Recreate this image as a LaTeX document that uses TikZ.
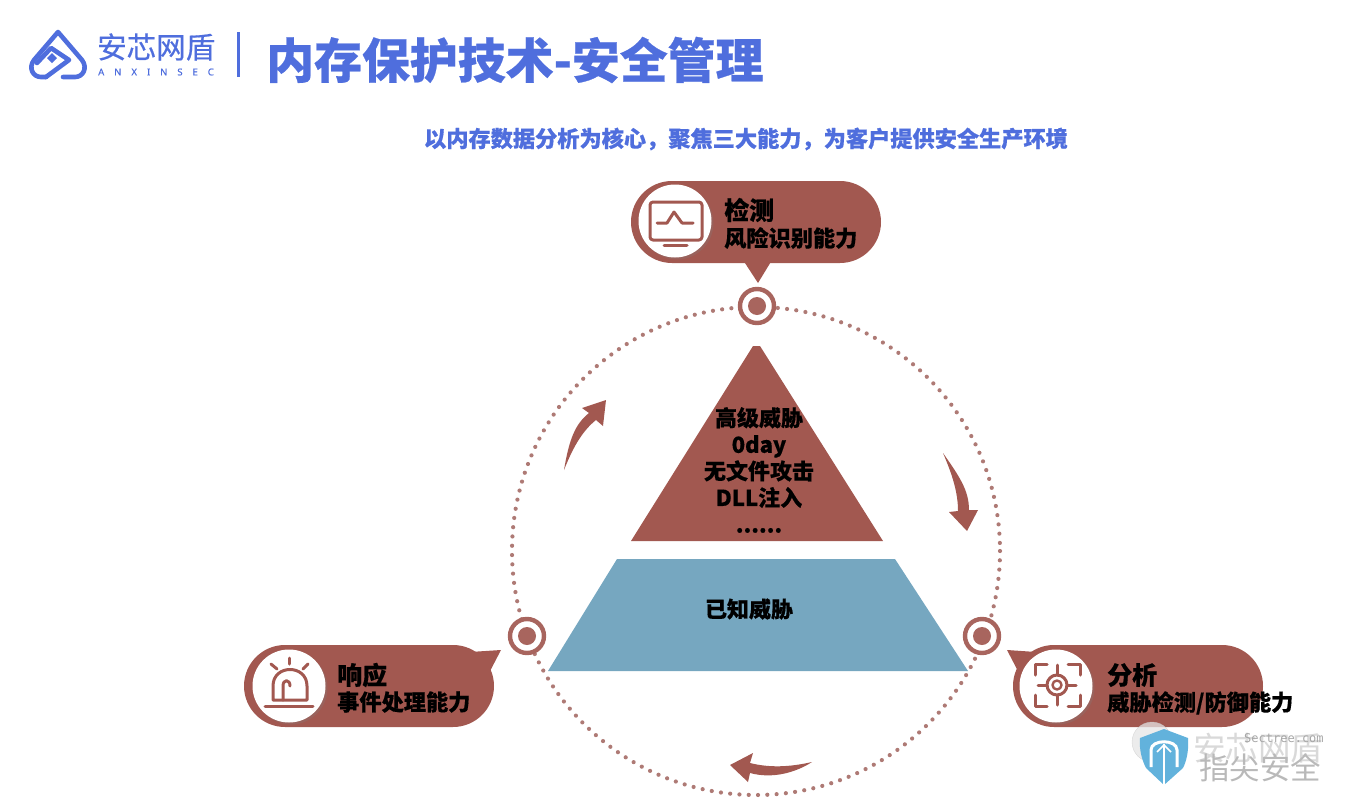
\documentclass[tikz,border=0pt]{standalone}
\usepackage{fontspec}
\setmainfont[BoldFeatures={FakeBold=0.5}]{Noto Sans CJK SC}
\newfontfamily\logocjk[FakeBold=0.5]{Noto Sans CJK SC}
\newfontfamily\logolatin[LetterSpace=105,FakeBold=0.6]{Noto Sans}
\newfontfamily\markmono{DejaVu Sans Mono}
\usetikzlibrary{shadows}
\definecolor{brick}{HTML}{A25850}
\definecolor{ringbrick}{HTML}{A8655E}
\definecolor{dotbrick}{HTML}{AE7A75}
\definecolor{logoblue}{HTML}{4F6EDD}
\definecolor{pyrblue}{HTML}{76A7C0}
\definecolor{shieldblue}{HTML}{62B2DC}
\tikzset{
	bubble/.style={fill=brick,rounded corners=41pt,minimum width=250pt,minimum height=82pt,inner sep=0pt},
	iconback/.style={circle,fill=white,minimum size=73pt,inner sep=0pt,drop shadow={opacity=0.25,shadow xshift=2pt,shadow yshift=-2pt}},
	iconline/.style={draw=brick,line width=3pt,line cap=round,line join=round},
	marker/.style={circle,draw=ringbrick,line width=4.4pt,fill=white,minimum size=34pt,inner sep=0pt},
	markerdot/.style={circle,fill=ringbrick,minimum size=18pt,inner sep=0pt},
	headtext/.style={anchor=west,inner sep=0pt,font=\bfseries\fontsize{25}{28}\selectfont},
	subtext/.style={anchor=west,inner sep=0pt,font=\bfseries\fontsize{22.2}{26}\selectfont},
	logostroke/.style={logoblue,line width=4.6pt,line cap=round,line join=round},
}
\begin{document}
\begin{tikzpicture}[x=1pt,y=-1pt]
	\useasboundingbox (0,0) rectangle (1350,798);

	\draw[logostroke] (46,77) -- (41,77) .. controls (33,77) and (28,68) .. (34,60) -- (58,32) -- (82,60) .. controls (88,68) and (83,77) .. (75,77) -- (63,77);
	\draw[logostroke] (46,77) -- (69,60) -- (51,48) -- (37,63);
	\fill[logoblue] (52,53) -- (57,58) -- (52,63) -- (47,58) -- cycle;
	\node[anchor=west,inner sep=0pt,text=logoblue,font=\logocjk\fontsize{29.5}{32}\selectfont] (logoname) at (97,47) {安芯网盾};
	\node[anchor=west,inner sep=0pt,text=logoblue,font=\logolatin\fontsize{9.5}{10}\selectfont] (logolatin) at (98,72) {ANXINSEC};
	\draw[logoblue,line width=3pt] (238,32) -- (238,77);
	\node[anchor=west,inner sep=0pt,text=logoblue,font=\bfseries\fontsize{47.9}{54}\selectfont] (title) at (266,60) {内存保护技术-安全管理};
	\node[inner sep=0pt,text=logoblue,font=\bfseries\fontsize{22.2}{26}\selectfont] (slogan) at (746,139) {以内存数据分析为核心，聚焦三大能力，为客户提供安全生产环境};

	\coordinate (ringcentre) at (756,551);
	\draw[dotbrick,line width=4.2pt,line cap=round,dash pattern=on 0pt off 9.3pt] (ringcentre) circle (244);

	\node[marker] (detectmark) at (757,306) {};
	\node[markerdot] at (detectmark) {};
	\node[marker] (respondmark) at (527,636) {};
	\node[markerdot] at (respondmark) {};
	\node[marker] (analysemark) at (982,636) {};
	\node[markerdot] at (analysemark) {};

	\fill[brick] (743,260) -- (758,283) -- (772,260) -- cycle;
	\node[bubble] (detectbubble) at (756,222) {};
	\node[iconback] (detecticon) at (675,221) {};
	\draw[iconline,rounded corners=3pt] (650,202) rectangle (702,240);
	\draw[iconline] (657,223) -- (667,223) -- (674,212) -- (682,223) -- (693,223);
	\draw[iconline] (664,245) -- (687,245);
	\node[headtext] (detecthead) at (724,210) {检测};
	\node[subtext] (detectsub) at (724,238) {风险识别能力};

	\fill[brick] (470,652) -- (501,650) -- (488,675) -- cycle;
	\node[bubble] (respondbubble) at (369,686) {};
	\node[iconback] (respondicon) at (289,686) {};
	\draw[iconline] (273,700) -- (273,686) .. controls (273,664) and (307,664) .. (307,686) -- (307,700) -- cycle;
	\draw[iconline] (283,700) -- (283,686) .. controls (283,679) and (290,679) .. (290,686);
	\draw[iconline] (265,706) -- (313,706);
	\draw[iconline] (289,658) -- (289,664);
	\draw[iconline] (271,664) -- (277,669);
	\draw[iconline] (308,664) -- (303,669);
	\node[headtext] (respondhead) at (337,675) {响应};
	\node[subtext] (respondsub) at (337,702) {事件处理能力};

	\fill[brick] (1036,652) -- (1007,650) -- (1020,675) -- cycle;
	\node[bubble] (analysebubble) at (1138,686) {};
	\node[iconback] (analyseicon) at (1056,686) {};
	\draw[iconline] (1057,685) circle (10);
	\draw[iconline,line width=2.4pt] (1057,685) circle (4.5);
	\draw[iconline] (1038,685) -- (1047,685) (1067,685) -- (1076,685) (1057,665) -- (1057,675) (1057,695) -- (1057,705);
	\draw[iconline] (1035,675) -- (1035,664) -- (1047,664) (1068,664) -- (1080,664) -- (1080,675);
	\draw[iconline] (1035,695) -- (1035,706) -- (1047,706) (1068,706) -- (1080,706) -- (1080,695);
	\node[headtext] (analysehead) at (1107,675) {分析};
	\node[subtext] (analysesub) at (1107,703) {威胁检测/防御能力};

	\fill[brick] (753,346) -- (760,346) -- (883,541) -- (631,541) -- cycle;
	\fill[pyrblue] (617,559) -- (895,559) -- (968,671) -- (548,671) -- cycle;
	\node[align=center,inner sep=0pt,font=\bfseries\fontsize{22}{26.6}\selectfont] (upperlabel) at (759,470) {高级威胁\\0day\\无文件攻击\\DLL注入\\......};
	\node[inner sep=0pt,font=\bfseries\fontsize{22}{26}\selectfont] (lowerlabel) at (749,609) {已知威胁};

	\fill[brick] (564,470) .. controls (569,440) and (575,424) .. (589,413) -- (582,408) -- (606,400) -- (603,426) -- (596,420) .. controls (581,432) and (572,450) .. (564,470) -- cycle;
	\fill[brick] (943,453) .. controls (959,476) and (969,490) .. (969,510) -- (978,510) -- (967,531) -- (949,512) -- (958,511) .. controls (958,492) and (952,474) .. (943,453) -- cycle;
	\fill[brick] (812,762) .. controls (790,767) and (770,768) .. (750,763) -- (753,753) -- (730,765) -- (748,782) -- (750,773) .. controls (772,779) and (795,773) .. (812,762) -- cycle;

	\fill[gray!20,opacity=0.75] (1152,742) ellipse (20 and 20);
	\draw[gray!45,opacity=0.6] (1152,742) ellipse (20 and 20);
	\draw[gray!45,opacity=0.6] (1162,754) ellipse (18 and 15);
	\fill[shieldblue] (1140,738) -- (1164,729) -- (1188,738) .. controls (1189,752) and (1186,762) .. (1183,768) -- (1164,785) -- (1146,768) .. controls (1142,760) and (1139,750) .. (1140,738) -- cycle;
	\draw[white,line width=3pt] (1151,767) -- (1151,750) .. controls (1151,739) and (1177,739) .. (1177,750) -- (1177,767);
	\draw[white,line width=2pt] (1164,744) -- (1164,785);
	\draw[white,line width=1.6pt] (1157,752) -- (1164,745) -- (1171,752);
	\node[inner sep=0pt,text=gray!30,font=\fontsize{32.5}{34}\selectfont] (markname) at (1258,748) {安芯网盾};
	\node[inner sep=0pt,text=gray!55,font=\fontsize{30.5}{32}\selectfont] (markline) at (1260,768) {指尖安全};
	\node[anchor=west,inner sep=0pt,text=gray!70,font=\markmono\fontsize{12}{14}\selectfont] (marksite) at (1244,738) {Sectree.com};
\end{tikzpicture}
\end{document}
